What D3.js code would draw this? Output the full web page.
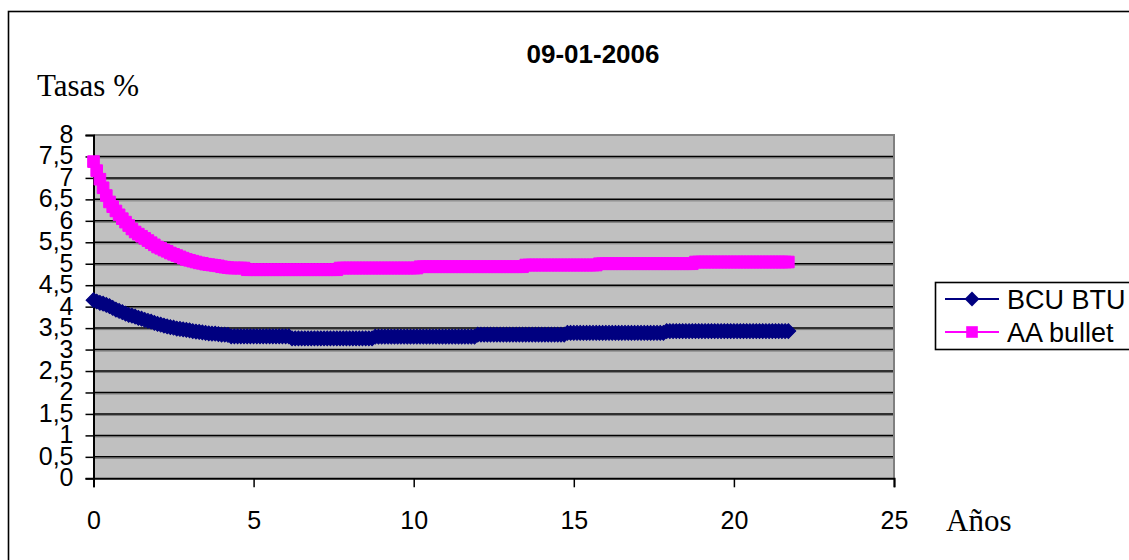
<!DOCTYPE html>
<html>
<head>
<meta charset="utf-8">
<script src="https://cdn.jsdelivr.net/npm/d3@7"></script>
<style>
  html, body { margin: 0; padding: 0; background: #fff; }
  svg { display: block; }
</style>
</head>
<body>
<svg id="chart" width="1129" height="560"></svg>
<script>
// Maturities in years
const years = [
  0.0, 0.1, 0.2, 0.3, 0.4, 0.5, 0.6, 0.7, 0.8, 0.9,
  1.0, 1.1, 1.2, 1.3, 1.4, 1.5, 1.6, 1.7, 1.8, 1.9,
  2.0, 2.1, 2.2, 2.3, 2.4, 2.5, 2.6, 2.7, 2.8, 2.9,
  3.0, 3.1, 3.2, 3.3, 3.4, 3.5, 3.6, 3.7, 3.8, 3.9,
  4.0, 4.1, 4.2, 4.3, 4.4, 4.5, 4.6, 4.7, 4.8, 4.9,
  5.0, 5.1, 5.2, 5.3, 5.4, 5.5, 5.6, 5.7, 5.8, 5.9,
  6.0, 6.1, 6.2, 6.3, 6.4, 6.5, 6.6, 6.7, 6.8, 6.9,
  7.0, 7.1, 7.2, 7.3, 7.4, 7.5, 7.6, 7.7, 7.8, 7.9,
  8.0, 8.1, 8.2, 8.3, 8.4, 8.5, 8.6, 8.7, 8.8, 8.9,
  9.0, 9.1, 9.2, 9.3, 9.4, 9.5, 9.6, 9.7, 9.8, 9.9,
  10.0, 10.1, 10.2, 10.3, 10.4, 10.5, 10.6, 10.7, 10.8, 10.9,
  11.0, 11.1, 11.2, 11.3, 11.4, 11.5, 11.6, 11.7, 11.8, 11.9,
  12.0, 12.1, 12.2, 12.3, 12.4, 12.5, 12.6, 12.7, 12.8, 12.9,
  13.0, 13.1, 13.2, 13.3, 13.4, 13.5, 13.6, 13.7, 13.8, 13.9,
  14.0, 14.1, 14.2, 14.3, 14.4, 14.5, 14.6, 14.7, 14.8, 14.9,
  15.0, 15.1, 15.2, 15.3, 15.4, 15.5, 15.6, 15.7, 15.8, 15.9,
  16.0, 16.1, 16.2, 16.3, 16.4, 16.5, 16.6, 16.7, 16.8, 16.9,
  17.0, 17.1, 17.2, 17.3, 17.4, 17.5, 17.6, 17.7, 17.8, 17.9,
  18.0, 18.1, 18.2, 18.3, 18.4, 18.5, 18.6, 18.7, 18.8, 18.9,
  19.0, 19.1, 19.2, 19.3, 19.4, 19.5, 19.6, 19.7, 19.8, 19.9,
  20.0, 20.1, 20.2, 20.3, 20.4, 20.5, 20.6, 20.7, 20.8, 20.9,
  21.0, 21.1, 21.2, 21.3, 21.4, 21.5, 21.6, 21.7
];

// BCU BTU rates (%)
const bcuBtu = [
  4.15, 4.12, 4.09, 4.07, 4.04, 4.01, 3.97, 3.93, 3.90, 3.87,
  3.84, 3.81, 3.79, 3.77, 3.74, 3.72, 3.69, 3.67, 3.65, 3.62,
  3.60, 3.58, 3.56, 3.54, 3.52, 3.51, 3.49, 3.48, 3.47, 3.46,
  3.45, 3.43, 3.42, 3.41, 3.40, 3.39, 3.38, 3.37, 3.37, 3.36,
  3.35, 3.35, 3.34, 3.31, 3.31, 3.31, 3.31, 3.31, 3.31, 3.31,
  3.31, 3.31, 3.31, 3.31, 3.31, 3.31, 3.31, 3.31, 3.31, 3.31,
  3.31, 3.31, 3.26, 3.26, 3.26, 3.26, 3.26, 3.26, 3.26, 3.26,
  3.26, 3.26, 3.26, 3.26, 3.26, 3.26, 3.26, 3.26, 3.26, 3.26,
  3.26, 3.26, 3.26, 3.26, 3.26, 3.26, 3.26, 3.26, 3.30, 3.30,
  3.30, 3.30, 3.30, 3.30, 3.30, 3.30, 3.30, 3.30, 3.30, 3.30,
  3.30, 3.30, 3.30, 3.30, 3.30, 3.30, 3.30, 3.30, 3.30, 3.30,
  3.30, 3.30, 3.30, 3.30, 3.30, 3.30, 3.30, 3.30, 3.30, 3.30,
  3.35, 3.35, 3.35, 3.35, 3.35, 3.35, 3.35, 3.35, 3.35, 3.35,
  3.35, 3.35, 3.35, 3.35, 3.35, 3.35, 3.35, 3.35, 3.35, 3.35,
  3.35, 3.35, 3.35, 3.35, 3.35, 3.35, 3.35, 3.35, 3.39, 3.39,
  3.39, 3.39, 3.39, 3.39, 3.39, 3.39, 3.39, 3.39, 3.39, 3.39,
  3.39, 3.39, 3.39, 3.39, 3.39, 3.39, 3.39, 3.39, 3.39, 3.39,
  3.39, 3.39, 3.39, 3.39, 3.39, 3.39, 3.39, 3.39, 3.39, 3.43,
  3.43, 3.43, 3.43, 3.43, 3.43, 3.43, 3.43, 3.43, 3.43, 3.43,
  3.43, 3.43, 3.43, 3.43, 3.43, 3.43, 3.43, 3.43, 3.43, 3.43,
  3.43, 3.43, 3.43, 3.43, 3.43, 3.43, 3.43, 3.43, 3.43, 3.43,
  3.43, 3.43, 3.43, 3.43, 3.43, 3.43, 3.43, 3.43
];

// AA bullet rates (%)
const aaBullet = [
  7.38, 7.17, 6.97, 6.77, 6.59, 6.44, 6.33, 6.23, 6.14, 6.05,
  5.97, 5.89, 5.81, 5.74, 5.69, 5.64, 5.59, 5.54, 5.49, 5.44,
  5.39, 5.36, 5.32, 5.29, 5.25, 5.22, 5.19, 5.16, 5.13, 5.10,
  5.08, 5.06, 5.04, 5.02, 5.01, 4.99, 4.98, 4.97, 4.96, 4.95,
  4.93, 4.92, 4.91, 4.90, 4.90, 4.90, 4.90, 4.90, 4.86, 4.86,
  4.86, 4.86, 4.86, 4.86, 4.86, 4.86, 4.86, 4.86, 4.86, 4.86,
  4.86, 4.86, 4.86, 4.86, 4.86, 4.86, 4.86, 4.86, 4.86, 4.86,
  4.86, 4.86, 4.86, 4.86, 4.86, 4.86, 4.86, 4.90, 4.90, 4.90,
  4.90, 4.90, 4.90, 4.90, 4.90, 4.90, 4.90, 4.90, 4.90, 4.90,
  4.90, 4.90, 4.90, 4.90, 4.90, 4.90, 4.90, 4.90, 4.90, 4.90,
  4.90, 4.90, 4.93, 4.93, 4.93, 4.93, 4.93, 4.93, 4.93, 4.93,
  4.93, 4.93, 4.93, 4.93, 4.93, 4.93, 4.93, 4.93, 4.93, 4.93,
  4.93, 4.93, 4.93, 4.93, 4.93, 4.93, 4.93, 4.93, 4.93, 4.93,
  4.93, 4.93, 4.93, 4.93, 4.93, 4.97, 4.97, 4.97, 4.97, 4.97,
  4.97, 4.97, 4.97, 4.97, 4.97, 4.97, 4.97, 4.97, 4.97, 4.97,
  4.97, 4.97, 4.97, 4.97, 4.97, 4.97, 4.97, 4.97, 5.00, 5.00,
  5.00, 5.00, 5.00, 5.00, 5.00, 5.00, 5.00, 5.00, 5.00, 5.00,
  5.00, 5.00, 5.00, 5.00, 5.00, 5.00, 5.00, 5.00, 5.00, 5.00,
  5.00, 5.00, 5.00, 5.00, 5.00, 5.00, 5.00, 5.00, 5.04, 5.04,
  5.04, 5.04, 5.04, 5.04, 5.04, 5.04, 5.04, 5.04, 5.04, 5.04,
  5.04, 5.04, 5.04, 5.04, 5.04, 5.04, 5.04, 5.04, 5.04, 5.04,
  5.04, 5.04, 5.04, 5.04, 5.04, 5.04, 5.04, 5.04
];

const seriesNames = ["BCU BTU", "AA bullet"];
const yTicks = [0, 0.5, 1, 1.5, 2, 2.5, 3, 3.5, 4, 4.5, 5, 5.5, 6, 6.5, 7, 7.5, 8];
const xTicks = [0, 5, 10, 15, 20, 25];
const titleText = "09-01-2006";
const yTitle = "Tasas %";
const xTitle = "Años";

const sans = "'Liberation Sans', Arial, sans-serif";
const serif = "'Liberation Serif', 'Times New Roman', serif";
const colors = ["#000080", "#FF00FF"];

const svg = d3.select("#chart");

// Chart frame (continues beyond the right and bottom edges)
svg.append("rect")
  .attr("x", 8.5).attr("y", 11.5)
  .attr("width", 1300).attr("height", 700)
  .attr("fill", "#fff").attr("stroke", "#000").attr("stroke-width", 1.6);

const plot = { left: 93.5, right: 894, top: 135, bottom: 478.3 };

const x = d3.scaleLinear().domain([0, 25]).range([plot.left, plot.right]);
const y = d3.scaleLinear().domain([0, 8]).range([plot.bottom, plot.top]);

// Plot area
svg.append("rect")
  .attr("x", plot.left).attr("y", plot.top)
  .attr("width", plot.right - plot.left).attr("height", plot.bottom - plot.top)
  .attr("fill", "#C0C0C0");

// Horizontal gridlines with a gray shade underneath
const gridVals = yTicks.filter(v => v > 0 && v < 8);
const grid = svg.append("g");
grid.selectAll("line.shade")
  .data(gridVals)
  .join("line")
  .attr("class", "shade")
  .attr("x1", plot.left).attr("x2", plot.right)
  .attr("y1", d => y(d) + 1.5).attr("y2", d => y(d) + 1.5)
  .attr("stroke", "#7a7a7a").attr("stroke-width", 1);
grid.selectAll("line.major")
  .data(gridVals)
  .join("line")
  .attr("class", "major")
  .attr("x1", plot.left).attr("x2", plot.right)
  .attr("y1", d => y(d)).attr("y2", d => y(d))
  .attr("stroke", "#000").attr("stroke-width", 1.5);

// Plot area border (top and right)
svg.append("path")
  .attr("d", `M${plot.left},${plot.top}H${plot.right}V${plot.bottom}`)
  .attr("fill", "none").attr("stroke", "#808080").attr("stroke-width", 2);

// Axes
const yAxis = d3.axisLeft(y)
  .tickValues(yTicks)
  .tickFormat(d => String(d).replace(".", ","))
  .tickSize(8).tickPadding(12);
const xAxis = d3.axisBottom(x)
  .tickValues(xTicks)
  .tickFormat(d3.format("d"))
  .tickSize(9).tickPadding(24);

const gy = svg.append("g").attr("transform", `translate(${plot.left},0)`).call(yAxis);
const gx = svg.append("g").attr("transform", `translate(0,${plot.bottom})`).call(xAxis);

[gx, gy].forEach(g => {
  g.select(".domain").attr("stroke", "#000").attr("stroke-width", 2);
  g.selectAll(".tick line").attr("stroke", "#000").attr("stroke-width", 1.5);
  g.selectAll(".tick text")
    .attr("fill", "#000")
    .style("font-family", sans)
    .style("font-size", "25px");
});
gy.selectAll(".tick text").attr("dy", "0.3em");

// Series
const seriesData = [bcuBtu, aaBullet].map(vals => years.map((t, i) => [t, vals[i]]));
const line = d3.line().x(d => x(d[0])).y(d => y(d[1]));

const diamond = d3.symbol(d3.symbolSquare, 110);
const square = d3.symbol(d3.symbolSquare, 135);

seriesData.forEach((pts, k) => {
  const g = svg.append("g");
  g.append("path")
    .attr("d", line(pts))
    .attr("fill", "none")
    .attr("stroke", colors[k])
    .attr("stroke-width", 3);
  g.selectAll("path.m")
    .data(pts)
    .join("path")
    .attr("class", "m")
    .attr("d", k === 0 ? diamond : square)
    .attr("transform", d => `translate(${x(d[0])},${y(d[1])})` + (k === 0 ? " rotate(45)" : ""))
    .attr("fill", colors[k])
    .attr("stroke", colors[k])
    .attr("stroke-width", 1);
});

// Title and axis titles
svg.append("text")
  .attr("x", 593).attr("y", 63)
  .attr("text-anchor", "middle")
  .style("font-family", sans).style("font-weight", "bold").style("font-size", "26px")
  .text(titleText);

svg.append("text")
  .attr("x", 37).attr("y", 96)
  .style("font-family", serif).style("font-size", "31px")
  .text(yTitle);

svg.append("text")
  .attr("x", 946).attr("y", 531)
  .style("font-family", serif).style("font-size", "31px")
  .text(xTitle);

// Legend
const legend = svg.append("g");
legend.append("rect")
  .attr("x", 935.5).attr("y", 282.5)
  .attr("width", 260).attr("height", 67)
  .attr("fill", "#fff").attr("stroke", "#000").attr("stroke-width", 1.6);

const legendY = [299, 332];
seriesNames.forEach((name, k) => {
  const ly = legendY[k];
  legend.append("line")
    .attr("x1", 945).attr("x2", 999)
    .attr("y1", ly).attr("y2", ly)
    .attr("stroke", colors[k]).attr("stroke-width", 2);
  legend.append("path")
    .attr("d", k === 0 ? diamond : square)
    .attr("transform", `translate(972,${ly})` + (k === 0 ? " rotate(45)" : ""))
    .attr("fill", colors[k]);
  legend.append("text")
    .attr("x", 1007).attr("y", ly)
    .attr("dy", "0.36em")
    .style("font-family", sans).style("font-size", "27px")
    .text(name);
});
</script>
</body>
</html>
